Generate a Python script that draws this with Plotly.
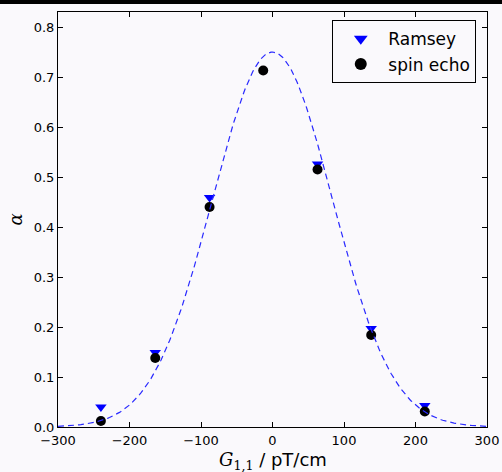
import numpy as np
import plotly.graph_objects as go

# Data
ramsey_x = [-240, -164, -88, 63, 138, 213]
ramsey_y = [0.040, 0.149, 0.459, 0.526, 0.197, 0.043]

echo_x = [-240, -164, -88, -13, 63, 138, 213]
echo_y = [0.012, 0.138, 0.440, 0.713, 0.515, 0.184, 0.031]

# Gaussian fit parameters (model curve)
fit_amp = 0.75
fit_center = 0.0
fit_sigma = 84.0
fit_x = np.linspace(-300, 300, 301)
fit_y = fit_amp * np.exp(-(fit_x - fit_center) ** 2 / (2 * fit_sigma ** 2))

x_ticks = [-300, -200, -100, 0, 100, 200, 300]
y_ticks = [0.0, 0.1, 0.2, 0.3, 0.4, 0.5, 0.6, 0.7, 0.8]

x_title = "<span style='font-family:DejaVu Serif'><i>G</i><sub>1,1</sub></span> / pT/cm"
y_title = "<i>α</i>"

BG = "#faf9fc"

fig = go.Figure()
fig.add_trace(go.Scatter(
    x=ramsey_x, y=ramsey_y, mode="markers", name="Ramsey",
    marker=dict(symbol="triangle-down", size=10, color="#0000ff",
                line=dict(width=0)),
))
fig.add_trace(go.Scatter(
    x=echo_x, y=echo_y, mode="markers", name="spin echo",
    marker=dict(symbol="circle", size=10, color="black", line=dict(width=0)),
))
fig.add_trace(go.Scatter(
    x=fit_x, y=fit_y, mode="lines", showlegend=False,
    line=dict(color="#2a2aff", width=1.2, dash="6px,4px"),
))

axis_common = dict(
    showgrid=False, zeroline=False, showline=True, linecolor="black",
    linewidth=1, mirror="ticks", ticks="inside", ticklen=5, tickwidth=1,
    tickcolor="black", tickfont=dict(family="DejaVu Sans", size=13, color="black"),
    automargin=False,
)

fig.update_layout(
    width=502, height=472,
    margin=dict(l=58, r=15, t=12, b=45),
    paper_bgcolor=BG, plot_bgcolor=BG,
    font=dict(family="DejaVu Sans", color="black"),
    xaxis=dict(range=[-300, 300], tickvals=x_ticks,
               ticktext=[("\u2212" + str(-v)) if v < 0 else str(v) for v in x_ticks],
               ticklabelstandoff=1,
               **axis_common),
    yaxis=dict(range=[0, 0.83], tickvals=y_ticks,
               ticktext=[f"{v:.1f}" for v in y_ticks],
               title=dict(text=y_title, font=dict(size=18, family="DejaVu Serif"),
                          standoff=6),
               **axis_common),
    legend=dict(x=0.975, y=0.98, xanchor="right", yanchor="top",
                bgcolor=BG, bordercolor="black", borderwidth=1,
                font=dict(size=17, family="DejaVu Sans"),
                itemwidth=45,
                itemsizing="constant", tracegroupgap=0),
    annotations=[dict(text=x_title, xref="paper", yref="paper",
                      x=0.5, y=-0.081, xanchor="center", yanchor="middle",
                      showarrow=False, font=dict(size=18, family="DejaVu Sans"))],
    shapes=[dict(type="rect", xref="paper", yref="paper",
                 x0=-0.2, x1=1.2, y0=1.0 + 8 / 415, y1=1.2,
                 fillcolor="black", line=dict(width=0), layer="above")],
    showlegend=True,
)

fig.write_html("out.html")
